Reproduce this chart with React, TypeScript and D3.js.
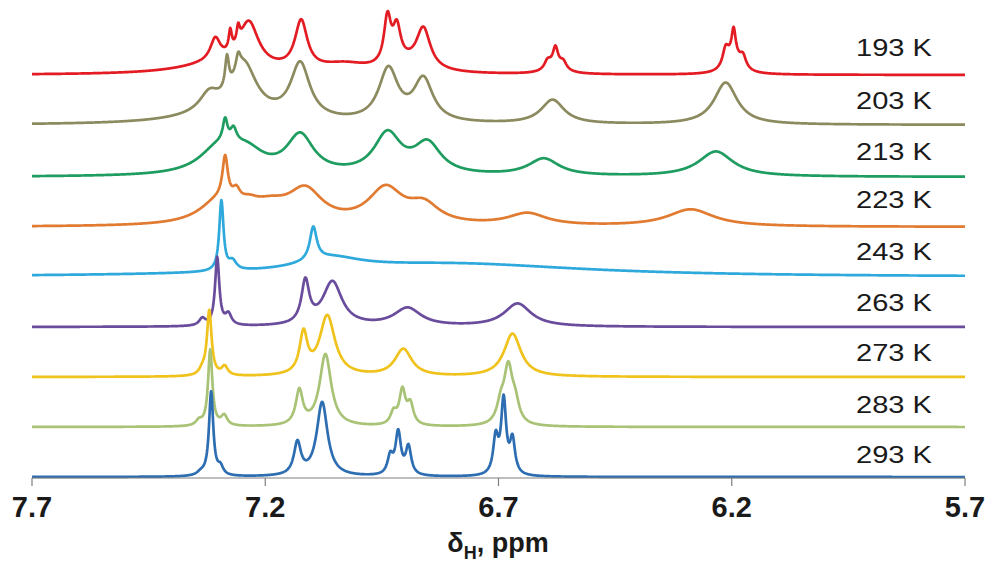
import React from "react";
import * as d3 from "d3";

// ---- data ----
const X_TICKS = [7.7, 7.2, 6.7, 6.2, 5.7];
const TEMPS = ["193 K", "203 K", "213 K", "223 K", "243 K", "263 K", "273 K", "283 K", "293 K"];
const OFFSETS = [402, 352, 300, 250, 200, 150, 100, 50, 0];
const COLORS = ["#e31b23", "#8c8a5f", "#1f9c5f", "#e07b31", "#2fa9db", "#6a4c9c", "#f0c21c", "#a8c276", "#2d6db1"];

// peaks: [position ppm, height, half-width ppm]
const PEAKS_193: number[][] = [
  [7.30, 10, 0.1], [7.307, 22, 0.013], [7.275, 20, 0.004], [7.258, 16, 0.004], [7.235, 44, 0.025],
  [7.123, 48, 0.016], [7.03, 8, 0.06], [6.938, 46, 0.009], [6.918, 34, 0.01], [6.90, 8, 0.05],
  [6.861, 40, 0.018], [6.595, 8, 0.008], [6.578, 16, 0.006], [6.578, 10, 0.02], [6.561, 7, 0.008],
  [6.213, 18, 0.008], [6.196, 25, 0.005], [6.196, 18, 0.018], [6.176, 12, 0.008],
];
const PEAKS_203: number[][] = [
  [7.28, 10, 0.12], [7.32, 18, 0.025], [7.282, 32, 0.005], [7.258, 16, 0.006], [7.245, 48, 0.032],
  [7.125, 55, 0.025], [6.936, 52, 0.025], [6.861, 42, 0.025], [6.584, 24, 0.03], [6.213, 42, 0.03],
];
const PEAKS_213: number[][] = [
  [7.30, 25, 0.05], [7.286, 22, 0.006], [7.268, 14, 0.008], [7.24, 20, 0.045], [7.125, 38, 0.035],
  [6.938, 40, 0.035], [6.852, 30, 0.035], [6.603, 17, 0.04], [6.234, 25, 0.045],
];
const PEAKS_223: number[][] = [
  [7.286, 42, 0.007], [7.30, 22, 0.05], [7.262, 12, 0.01], [7.235, 9, 0.025], [7.19, 15, 0.05],
  [7.114, 32, 0.045], [6.942, 35, 0.045], [6.86, 18, 0.04], [6.638, 12, 0.05], [6.288, 17, 0.06],
];
const PEAKS_243: number[][] = [
  [7.294, 70, 0.0055], [7.270, 9, 0.01], [7.097, 33, 0.009], [7.06, 12, 0.08], [6.80, 13, 0.35],
];
const PEAKS_263: number[][] = [
  [7.335, 7, 0.008], [7.303, 68, 0.0055], [7.279, 11, 0.008], [7.114, 42, 0.01], [7.056, 44, 0.025],
  [6.895, 18, 0.035], [6.659, 23, 0.035],
];
const PEAKS_273: number[][] = [
  [7.335, 5, 0.008], [7.320, 65, 0.006], [7.287, 9, 0.008], [7.118, 40, 0.01], [7.067, 60, 0.02],
  [6.904, 27, 0.022], [6.670, 43, 0.022],
];
const PEAKS_283: number[][] = [
  [7.342, 5, 0.008], [7.318, 76, 0.0055], [7.288, 10, 0.008], [7.127, 34, 0.009], [7.071, 72, 0.015],
  [6.925, 12, 0.008], [6.906, 34, 0.008], [6.889, 20, 0.008], [6.695, 18, 0.01], [6.679, 55, 0.011],
  [6.664, 18, 0.01],
];
const PEAKS_293: number[][] = [
  [7.338, 3, 0.01], [7.316, 84, 0.0055], [7.296, 8, 0.007], [7.131, 32, 0.009], [7.078, 74, 0.014],
  [6.932, 18, 0.007], [6.915, 42, 0.007], [6.893, 28, 0.007], [6.706, 36, 0.0065], [6.689, 74, 0.0065],
  [6.670, 34, 0.0065],
];
const PEAK_SETS = [PEAKS_193, PEAKS_203, PEAKS_213, PEAKS_223, PEAKS_243, PEAKS_263, PEAKS_273, PEAKS_283, PEAKS_293];

const W = 988;
const H = 573;

function spectrum(peaks: number[][], offset: number): [number, number][] {
  const pts: [number, number][] = [];
  for (let i = 0; i <= 2000; i++) {
    const p = 5.7 + i * 0.001;
    let v = 0;
    for (const [c, h, w] of peaks) {
      const t = (p - c) / w;
      v += h / (1 + t * t);
    }
    pts.push([p, offset + v]);
  }
  return pts;
}

export default function App() {
  const x = d3.scaleLinear().domain([7.7, 5.7]).range([32, 965]);
  const y = d3.scaleLinear().domain([0, 477]).range([477, 0]);
  const line = d3.line<[number, number]>().x((d) => x(d[0])).y((d) => y(d[1]));
  const axisY = 478;
  const font = "Arial, 'Liberation Sans', sans-serif";
  const labelY = [56, 109, 160, 208, 260, 311, 361, 413, 463];

  return (
    <svg width={W} height={H} style={{ position: "absolute", left: 0, top: 0, background: "#fff" }} fontFamily={font}>
      <rect width={W} height={H} fill="#fff" />
      {PEAK_SETS.map((pk, i) => (
        <path key={i} d={line(spectrum(pk, OFFSETS[i])) || ""} fill="none" stroke={COLORS[i]} strokeWidth={2.7} strokeLinejoin="round" />
      ))}
      <line x1={x(7.7)} x2={x(5.7)} y1={axisY} y2={axisY} stroke="#7f7f7f" strokeWidth={1.2} />
      {X_TICKS.map((t) => (
        <g key={t}>
          <line x1={x(t)} x2={x(t)} y1={axisY} y2={axisY + 8} stroke="#7f7f7f" strokeWidth={1.2} />
          <text x={x(t)} y={517} textAnchor="middle" fontSize={29} fontWeight="bold" fill="#1a1a1a">
            {t.toFixed(1)}
          </text>
        </g>
      ))}
      <text x={498} y={552} textAnchor="middle" fontSize={27} fontWeight="bold" fill="#1a1a1a">
        δ<tspan fontSize={18} dy={7}>H</tspan>
        <tspan dy={-7}>, ppm</tspan>
      </text>
      {TEMPS.map((t, i) => (
        <text key={t} x={932} y={labelY[i]} textAnchor="end" fontSize={24} fill="#1a1a1a" textLength={76} lengthAdjust="spacingAndGlyphs">
          {t}
        </text>
      ))}
    </svg>
  );
}
